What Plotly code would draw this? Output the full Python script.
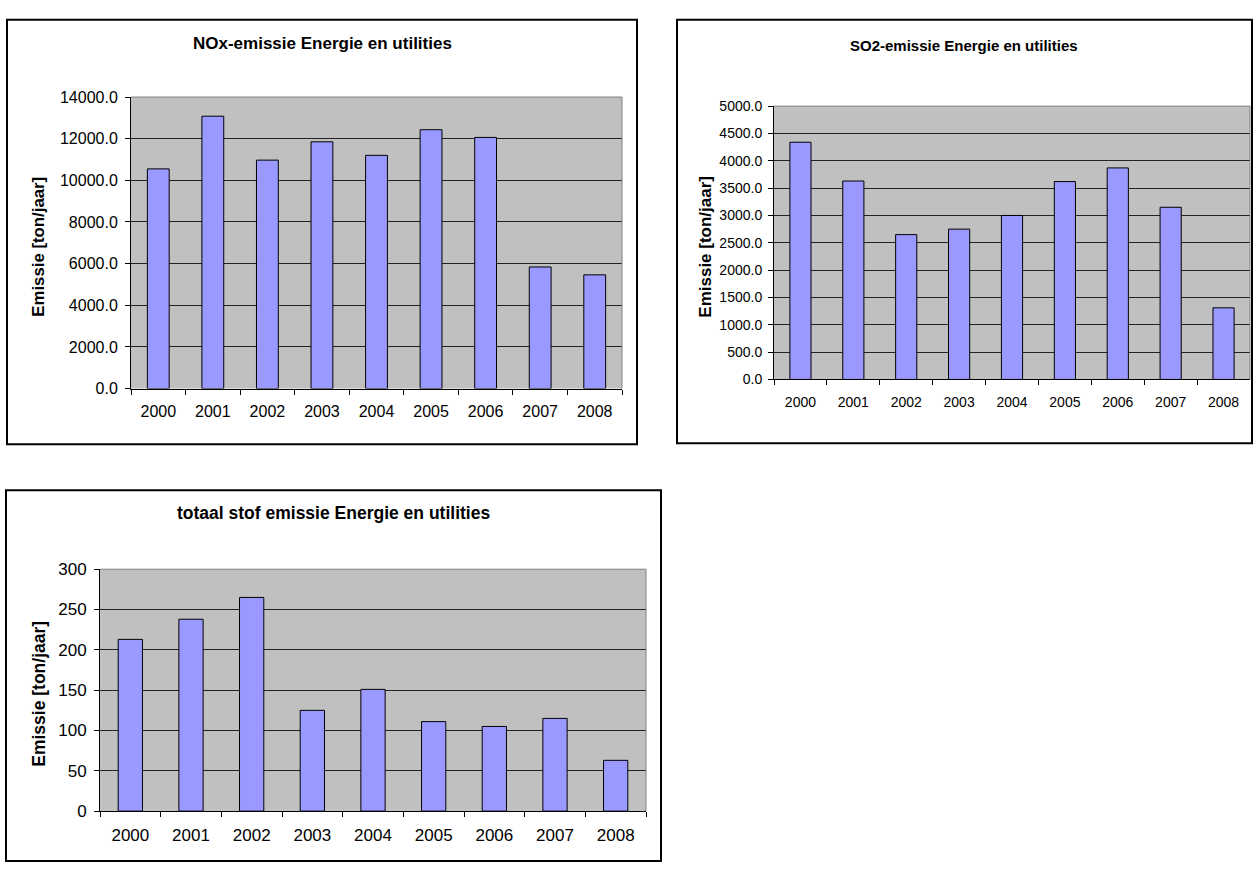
import plotly.graph_objects as go

W, H = 1253, 872

years = ["2000", "2001", "2002", "2003", "2004", "2005", "2006", "2007", "2008"]

nox = [10550, 13080, 10970, 11850, 11200, 12430, 12060, 5840, 5460]
so2 = [4340, 3630, 2650, 2750, 3000, 3620, 3870, 3150, 1310]
stof = [213, 238, 265, 125, 151, 111, 105, 115, 63]

titles = [
    "NOx-emissie Energie en utilities",
    "SO2-emissie Energie en utilities",
    "totaal stof emissie Energie en utilities",
]
y_title = "Emissie [ton/jaar]"

FONT = "Liberation Sans, Arial, sans-serif"


def px_x(x):
    return x / W


def px_y(y):
    return 1 - y / H


# pixel geometry of each panel: plot area, outer frame, title/axis-title anchors
panels = [
    dict(data=nox, plot=(131, 622, 90, 388), frame=(7, 637, 11, 445), rng=[0, 14000], dtick=2000,
         fmt=".1f", title_y=35, ytitle_x=39, ytitle_y=243, tick_size=16, title_size=17,
         ytitle_size=16.8, xstand=8, ystand=4),
    dict(data=so2, plot=(774, 1250, 99.3, 378.7), frame=(677, 1252, 11, 444), rng=[0, 5000], dtick=500,
         fmt=".1f", title_y=37, ytitle_x=706, ytitle_y=243, tick_size=14, title_size=15,
         ytitle_size=17, xstand=10, ystand=3),
    dict(data=stof, plot=(100, 646, 572.7, 820), frame=(6, 661, 492, 871), rng=[0, 300], dtick=50,
         fmt="d", title_y=515, ytitle_x=39, ytitle_y=700, tick_size=17, title_size=17.5,
         ytitle_size=17.5, xstand=8, ystand=4),
]

fig = go.Figure()
shapes = []
annotations = []

for i, p in enumerate(panels, start=1):
    x0, x1, y0, y1 = p["plot"]
    xa = "x" if i == 1 else f"x{i}"
    ya = "y" if i == 1 else f"y{i}"
    fig.add_trace(go.Bar(
        x=years, y=p["data"], xaxis=xa, yaxis=ya,
        marker=dict(color="#9999FF", line=dict(color="black", width=1)),
        showlegend=False, hoverinfo="x+y",
    ))
    tick_font = dict(family=FONT, size=p["tick_size"], color="black")
    fig.layout[f"xaxis{'' if i == 1 else i}"] = dict(
        domain=[px_x(x0), px_x(x1)], anchor=ya, type="category",
        showline=True, linecolor="black", linewidth=1,
        ticks="outside", ticklen=5, tickcolor="black", tickson="boundaries",
        showgrid=False, tickfont=tick_font, ticklabelstandoff=p["xstand"], fixedrange=True,
    )
    fig.layout[f"yaxis{'' if i == 1 else i}"] = dict(
        domain=[px_y(y1), px_y(y0)], anchor=xa, range=p["rng"], dtick=p["dtick"],
        tickformat=p["fmt"], showline=True, linecolor="black", linewidth=1,
        ticks="outside", ticklen=5, tickcolor="black",
        showgrid=True, gridcolor="#222222", gridwidth=1, zeroline=False,
        tickfont=tick_font, ticklabelstandoff=p["ystand"], fixedrange=True,
    )
    # grey border along the top and right of the plot area
    shapes.append(dict(
        type="path", xref="paper", yref="paper",
        path=f"M {px_x(x0)} {px_y(y0)} L {px_x(x1)} {px_y(y0)} L {px_x(x1)} {px_y(y1)}",
        line=dict(color="#808080", width=1),
    ))
    # outer chart frame
    fx0, fx1, fy0, fy1 = p["frame"]
    shapes.append(dict(
        type="rect", xref="paper", yref="paper",
        x0=px_x(fx0), x1=px_x(fx1), y0=px_y(fy1), y1=px_y(fy0),
        line=dict(color="black", width=2), fillcolor="rgba(0,0,0,0)",
    ))
    annotations.append(dict(
        text=f"<b>{titles[i - 1]}</b>", xref="paper", yref="paper",
        x=px_x((fx0 + fx1) / 2), y=px_y(p["title_y"]), xanchor="center", yanchor="middle",
        showarrow=False, font=dict(family=FONT, size=p["title_size"], color="black"),
    ))
    annotations.append(dict(
        text=f"<b>{y_title}</b>", xref="paper", yref="paper", textangle=-90,
        x=px_x(p["ytitle_x"]), y=px_y(p["ytitle_y"]), xanchor="center", yanchor="middle",
        showarrow=False, font=dict(family=FONT, size=p["ytitle_size"], color="black"),
    ))

fig.update_layout(
    width=W, height=H, margin=dict(l=0, r=0, t=0, b=0),
    paper_bgcolor="white", plot_bgcolor="#C0C0C0",
    bargap=0.6, shapes=shapes, annotations=annotations,
)

fig.write_html("out.html")
